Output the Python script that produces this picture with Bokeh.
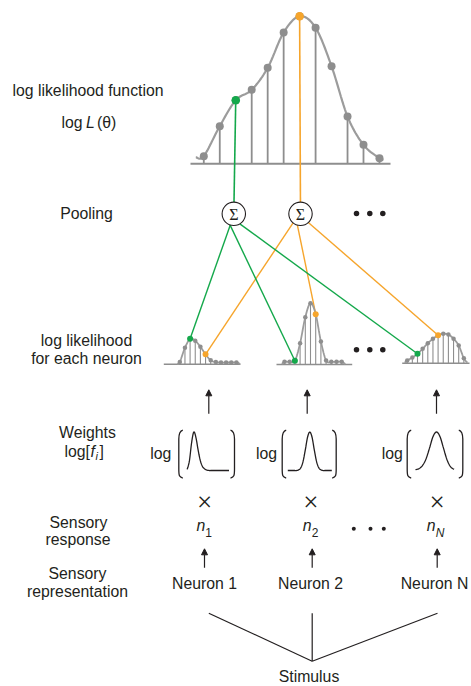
from bokeh.plotting import figure
from bokeh.models import Range1d, Arrow, NormalHead
from bokeh.core.properties import value
from bokeh.embed import file_html
from bokeh.resources import INLINE
import math

# ---------------- data ----------------
# population log likelihood, arbitrary units (height above baseline)
main_logL = [7.6, 37.6, 63.6, 74.0, 96.0, 131.3, 147.6, 136.0, 97.6, 47.3, 19.0, 5.6]
main_tails = [6.6, 4.0]
main_green = 2
main_orange = 6
main_no_stem = [8]

# per-neuron log likelihoods
n1_logL = [2.3, 16.5, 25.5, 23.5, 17.5, 10.0, 4.0, 2.2, 1.8, 1.8, 1.8, 1.8]
n2_logL = [2.7, 2.7, 3.7, 21.3, 47.3, 61.3, 50.3, 23.0, 4.0, 2.7, 2.7, 2.7]
nN_logL = [2.7, 5.7, 9.4, 14.4, 20.0, 24.4, 28.0, 29.4, 28.7, 24.4, 17.7, 5.0]
neuron_logL = [n1_logL, n2_logL, nN_logL]
neuron_green = [2, 2, 2]
neuron_orange = [5, 6, 6]

# tuning curves f_i (normalised)
tc1 = [0.03, 0.25, 0.72, 1.0, 0.85, 0.52, 0.25, 0.10, 0.04, 0.01, 0, 0, 0, 0, 0, 0, 0, 0, 0, 0]
tc2 = [0, 0, 0, 0, 0, 0.02, 0.08, 0.25, 0.55, 0.87, 1.0, 0.87, 0.55, 0.25, 0.08, 0.02, 0, 0, 0, 0, 0]
tc3 = [0.02, 0.05, 0.13, 0.30, 0.58, 0.88, 1.0, 0.88, 0.58, 0.28, 0.10, 0.03]
tuning = [tc1, tc2, tc3]

neuron_names = ["Neuron 1", "Neuron 2", "Neuron N"]
n_subs = ["1", "2", "N"]
left_labels = ["log likelihood function", "Pooling", "log likelihood", "for each neuron",
               "Weights", "Sensory", "response", "Sensory", "representation"]

# ---------------- layout (pixel positions) ----------------
TXT = "#231f20"
GREY = "#8e8e8e"
CURVE = "#9c9c9c"
GREEN = "#14a84b"
ORANGE = "#f6a52c"
FONT = value("Liberation Sans")
FS = "15.8px"

main_x0, main_dx, main_base = 203.3, 15.97, 163.3
main_bx = (190, 390)
panels = [dict(x0=179.3, dx=5.15, base=363.8, bx=(163.3, 240)),
          dict(x0=284.0, dx=5.2, base=364.0, bx=(276, 351.7)),
          dict(x0=406.7, dx=5.15, base=362.7, bx=(401.7, 469))]
sig = [(233.3, 213.3), (300.0, 213.3)]
sig_r = 11.7
green_offs = [-3.5, -3.8, 6.0]
orange_offs = [-7.4, -3.1, 7.8]
col_x = [204, 310, 434]
tune_layout = [dict(x0=186.7, dx=2.2, brk=(178.3, 182.3, 230.0, 234.0), log_x=160.3),
               dict(x0=287.3, dx=2.2, brk=(281.7, 285.7, 331.7, 335.7), log_x=266.0),
               dict(x0=415.0, dx=3.5, brk=(406.7, 410.7, 458.3, 462.3), log_x=391.7)]
tune_base, tune_h = 470.0, 38.5
label_pos = [(87.5, 90), (86, 213), (86, 340), (86, 358), (87, 432),
             (78, 521.7), (77.5, 539.3), (77, 573.3), (77, 591)]


def catmull(xs, ys, n=10):
    px = [xs[0]] + list(xs) + [xs[-1]]
    py = [ys[0]] + list(ys) + [ys[-1]]
    ox, oy = [], []
    for i in range(1, len(px) - 2):
        for k in range(n):
            t = k / n
            t2, t3 = t * t, t * t * t
            for arr, out in ((px, ox), (py, oy)):
                p0, p1, p2, p3 = arr[i - 1], arr[i], arr[i + 1], arr[i + 2]
                out.append(0.5 * (2 * p1 + (-p0 + p2) * t + (2 * p0 - 5 * p1 + 4 * p2 - p3) * t2
                                  + (-p0 + 3 * p1 - 3 * p2 + p3) * t3))
    ox.append(xs[-1])
    oy.append(ys[-1])
    return ox, oy


p = figure(width=471, height=686, x_range=Range1d(0, 471), y_range=Range1d(686, 0),
           output_backend="svg", toolbar_location=None, min_border=0,
           x_axis_type=None, y_axis_type=None, outline_line_color=None)
p.grid.visible = False
p.background_fill_color = "white"
p.border_fill_color = "white"


def txt(x, y, s, size=FS, align="center", style="normal", font=FONT, color=TXT):
    p.text(x=[x], y=[y], text=[s], text_align=align, text_baseline="middle",
           text_font=font, text_font_size=size, text_font_style=style, text_color=color)


# ---- main log likelihood panel ----
mx = [main_x0 + i * main_dx for i in range(len(main_logL))]
my = [main_base - v for v in main_logL]
p.line(x=list(main_bx), y=[main_base, main_base], line_color=GREY, line_width=2)
sx = [mx[i] for i in range(len(mx)) if i not in main_no_stem + [main_green, main_orange]]
sy = [my[i] for i in range(len(mx)) if i not in main_no_stem + [main_green, main_orange]]
p.segment(x0=sx, y0=sy, x1=sx, y1=[main_base] * len(sx), line_color=GREY, line_width=1.8)
cx_, cy_ = catmull([mx[0] - main_dx / 2] + mx + [mx[-1] + main_dx / 4],
                   [main_base - main_tails[0]] + my + [main_base - main_tails[1]], 12)
p.line(cx_, cy_, line_color=CURVE, line_width=2.2)

# links from main panel to pooling nodes
p.line([mx[main_green], sig[0][0]], [my[main_green], sig[0][1]], line_color=GREEN, line_width=1.6)
p.line([mx[main_orange], sig[1][0]], [my[main_orange], sig[1][1]], line_color=ORANGE, line_width=1.6)

# ---- neuron panels ----
for k, (vals, lay) in enumerate(zip(neuron_logL, panels)):
    xs = [lay["x0"] + i * lay["dx"] for i in range(len(vals))]
    ys = [lay["base"] - v for v in vals]
    neuron_logL[k] = (xs, ys)
    gx, gy = xs[neuron_green[k]], ys[neuron_green[k]]
    ox, oy = xs[neuron_orange[k]], ys[neuron_orange[k]]
    go = green_offs[k]
    oo = orange_offs[k]
    p.line([sig[0][0] + go, gx], [sig[0][1] + math.sqrt(sig_r ** 2 - go ** 2), gy],
           line_color=GREEN, line_width=1.4)
    p.line([sig[1][0] + oo, ox], [sig[1][1] + math.sqrt(sig_r ** 2 - oo ** 2), oy],
           line_color=ORANGE, line_width=1.4)

for k, lay in enumerate(panels):
    xs, ys = neuron_logL[k]
    p.line(x=list(lay["bx"]), y=[lay["base"], lay["base"]], line_color=GREY, line_width=1.6)
    p.segment(x0=xs, y0=ys, x1=xs, y1=[lay["base"]] * len(xs), line_color=GREY, line_width=1.1)
    cx2, cy2 = catmull([xs[0] - lay["dx"] / 2] + xs + [xs[-1] + lay["dx"] * 0.7],
                       [lay["base"] - 0.5] + ys + [lay["base"] - 0.5], 10)
    p.line(cx2, cy2, line_color=CURVE, line_width=1.8)
    p.scatter(xs, ys, size=4.5, fill_color=GREY, line_color=None)
    p.scatter([xs[neuron_green[k]]], [ys[neuron_green[k]]], size=6, fill_color=GREEN, line_color=None)
    p.scatter([xs[neuron_orange[k]]], [ys[neuron_orange[k]]], size=6, fill_color=ORANGE, line_color=None)

# main dots
p.scatter(mx, my, size=8, fill_color=GREY, line_color=None)
p.scatter([mx[main_green]], [my[main_green]], size=8.5, fill_color=GREEN, line_color=None)
p.scatter([mx[main_orange]], [my[main_orange]], size=8.5, fill_color=ORANGE, line_color=None)

# pooling nodes
p.scatter([s[0] for s in sig], [s[1] for s in sig], size=2 * sig_r, fill_color="white",
          line_color=TXT, line_width=1.1)
for s in sig:
    txt(s[0], s[1] + 0.5, "Σ", size="16px", font=value("Liberation Serif"))

# ellipsis dots
p.scatter([356, 369.3, 382.3], [213, 213, 213], size=5.5, fill_color=TXT, line_color=None)
p.scatter([356, 369.3, 382.3], [349.3, 349.3, 349.3], size=5.5, fill_color=TXT, line_color=None)
p.scatter([353.3, 370, 383.3], [528.3, 528.3, 528.3], size=4, fill_color=TXT, line_color=None)

# arrows
for ax_ in [208.3, 306.7, 436.0]:
    p.add_layout(Arrow(end=NormalHead(size=6, fill_color=TXT, line_color=TXT, line_width=1),
                       x_start=ax_, y_start=413.3, x_end=ax_, y_end=389.3,
                       line_color=TXT, line_width=1.2))
for ax_ in [204, 311.7, 436.7]:
    p.add_layout(Arrow(end=NormalHead(size=6, fill_color=TXT, line_color=TXT, line_width=1),
                       x_start=ax_, y_start=567.3, x_end=ax_, y_end=548.3,
                       line_color=TXT, line_width=1.2))

# tuning curves in log brackets
for tc, lay in zip(tuning, tune_layout):
    xs = [lay["x0"] + i * lay["dx"] for i in range(len(tc))]
    ys = [tune_base - v * tune_h for v in tc]
    cx3, cy3 = catmull(xs, ys, 8)
    p.line(cx3, cy3, line_color=TXT, line_width=1.3)
    le, lend, re, rend = lay["brk"]
    top, bot = 429.5, 477.5
    p.bezier(x0=[lend, le], y0=[top, bot - 9], x1=[le, lend], y1=[top + 9, bot],
             cx0=[le + 0.5, le], cy0=[top + 1, bot - 2], cx1=[le, le + 0.5], cy1=[top + 4, bot - 1],
             line_color=TXT, line_width=1.3)
    p.segment(x0=[le], y0=[top + 9], x1=[le], y1=[bot - 9], line_color=TXT, line_width=1.3)
    p.bezier(x0=[re, rend], y0=[top, bot - 9], x1=[rend, re], y1=[top + 9, bot],
             cx0=[rend - 0.5, rend], cy0=[top + 1, bot - 2], cx1=[rend, rend - 0.5], cy1=[top + 4, bot - 1],
             line_color=TXT, line_width=1.3)
    p.segment(x0=[rend], y0=[top + 9], x1=[rend], y1=[bot - 9], line_color=TXT, line_width=1.3)
    txt(lay["log_x"], 453.3, "log")

# multiplication signs and responses
for x_ in [204, 310.3, 436.7]:
    txt(x_, 501.7, "×", size="27px", font=value("Liberation Serif"))
nx = [200.3, 306.7, 430.7]
for x_, sub in zip(nx, n_subs):
    txt(x_, 525, "n", style="italic")
    txt(x_ + 4.5, 532, sub, size="12px", align="left", style="italic" if sub == "N" else "normal")

# neuron names
for x_, name in zip(col_x, neuron_names):
    txt(x_, 583.3, name)

# stimulus
stim_x, stim_y = 311.7, 660.7
p.segment(x0=[208.3, stim_x, 437.0], y0=[612.7, 612.7, 612.7],
          x1=[stim_x, stim_x, stim_x], y1=[stim_y, stim_y, stim_y], line_color=TXT, line_width=1.2)
txt(308.5, 676, "Stimulus")

# left column labels
for s, (x_, y_) in zip(left_labels, label_pos):
    txt(x_, y_, s)
# log L(theta)
txt(82, 121.7, "log", align="right")
txt(85.5, 121.7, "L", align="left", style="italic")
txt(96.5, 121.7, "(θ)", align="left")
# log[f_i]
txt(64, 450.5, "log[", align="left")
txt(90, 450.5, "f", align="left", style="italic")
txt(95, 455, "i", size="11px", align="left", style="italic")
txt(99, 450.5, "]", align="left")

open("out.html", "w").write(file_html(p, INLINE))
